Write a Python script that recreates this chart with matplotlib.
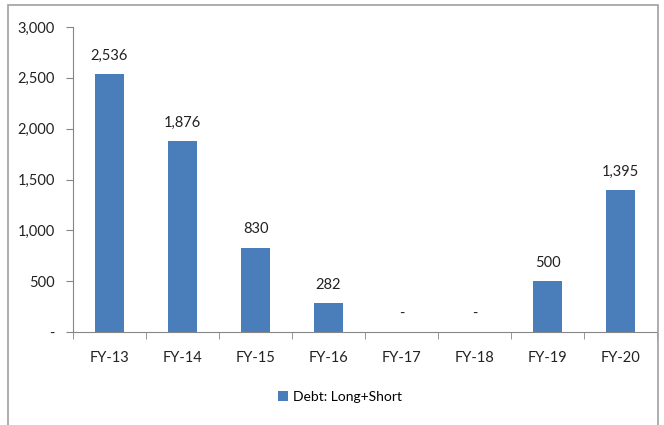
import matplotlib.pyplot as plt
from matplotlib.patches import Rectangle

years = ['FY-13', 'FY-14', 'FY-15', 'FY-16', 'FY-17', 'FY-18', 'FY-19', 'FY-20']
debt = [2536, 1876, 830, 282, 0, 0, 500, 1395]

plt.rcParams['font.family'] = ['Lato', 'DejaVu Sans']
blue = '#4a7ebb'
grey = '#868686'

fig = plt.figure(figsize=(6.64, 4.25), dpi=100)
fig.patches.append(Rectangle((8 / 664, -0.01), 650 / 664, 1 - 5 / 425 + 0.01,
                             transform=fig.transFigure, fill=False,
                             edgecolor='#a0a0a0', linewidth=1.2))
ax = fig.add_axes([73 / 664, 1 - 332 / 425, 584 / 664, 305 / 425])

x = range(len(years))
bars = ax.bar(x, debt, width=0.4, color=blue, label='Debt: Long+Short')

for xi, v in zip(x, debt):
    txt = f'{v:,}' if v else '-'
    ax.text(xi, v + 110, txt, ha='center', va='bottom', fontsize=10.5, color='#222222')

ax.set_xlim(-0.5, len(years) - 0.5)
ax.set_ylim(0, 3000)
ax.set_yticks(range(0, 3001, 500))
ax.set_yticklabels(['-' if t == 0 else f'{t:,}' for t in range(0, 3001, 500)])
ax.set_xticks(x)
ax.set_xticklabels(years)
ax.set_xticks([i - 0.5 for i in range(len(years) + 1)], minor=True)

for s in ['top', 'right']:
    ax.spines[s].set_visible(False)
for s in ['left', 'bottom']:
    ax.spines[s].set_color(grey)
ax.tick_params(axis='y', length=5, color=grey, labelsize=10.5, pad=8, labelcolor='#222222')
ax.tick_params(axis='x', which='major', length=0, labelsize=10.5, pad=14, labelcolor='#222222')
ax.tick_params(axis='x', which='minor', length=5, color=grey)

fig.legend(handles=[bars], loc='center', bbox_to_anchor=(340 / 664, 1 - 397 / 425),
           frameon=False, fontsize=10, handlelength=0.7, handleheight=0.7,
           handletextpad=0.4)

fig.savefig('out.png', dpi=100)
